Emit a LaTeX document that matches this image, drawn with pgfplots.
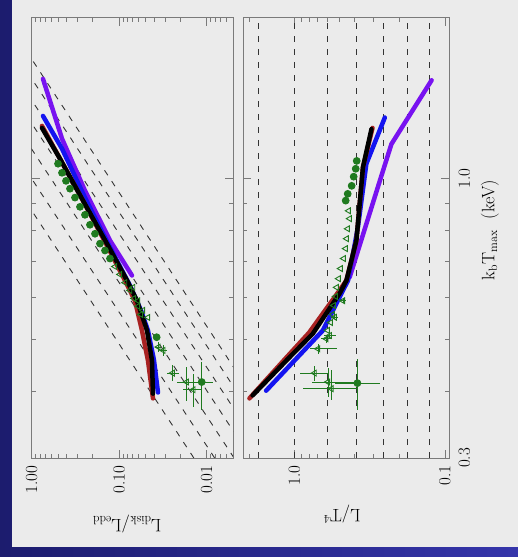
\documentclass[border=0pt]{standalone}
\usepackage{pgfplots}
\pgfplotsset{compat=1.18}
\definecolor{navy}{HTML}{1C1C6E}
\definecolor{navyhi}{HTML}{3535AA}
\definecolor{bgpanel}{HTML}{EBEBEB}
\definecolor{frame}{HTML}{7A7A7A}
\definecolor{dgreen}{HTML}{1F7A1F}
\definecolor{cred}{HTML}{A82222}
\definecolor{cblue}{HTML}{1414F0}
\definecolor{cpurple}{HTML}{7812F0}

\pgfplotsset{
  mypanel/.style={
    scale only axis, height=440pt,
    ymin=0.3, ymax=2.0,
    ytick={0.3,1}, minor ytick={0.4,0.5,0.6,0.7,0.8,0.9},
    yticklabels={},
    axis line style={frame, line width=1pt},
    every tick/.style={frame, line width=0.8pt},
    major tick length=8pt, minor tick length=4pt,
    tick align=inside,
    xticklabel style={rotate=90, anchor=east, font=\fontsize{17}{19}\selectfont},
    xticklabel shift=4pt,
  },
  mycurve/.style={line width=4.5pt, line join=round, line cap=round},
  myguide/.style={black!80, line width=0.9pt, dash pattern=on 6pt off 7pt},
  myobs/.style={only marks, dgreen, mark size=3.4pt, line width=0.9pt},
  mytri/.style={myobs, mark=triangle, mark options={rotate=90, fill=none}},
  mydot/.style={myobs, mark=*},
  myeb/.style={error bars/x dir=both, error bars/x explicit,
    error bars/y dir=both, error bars/y explicit,
    error bars/error mark=none,
    error bars/error bar style={line width=0.7pt, dgreen}},
}

\begin{document}
\begin{tikzpicture}
\shade[left color=navy, right color=navyhi] (0pt,0pt) rectangle (518pt,557pt);
\fill[bgpanel] (12pt,10pt) rectangle (518pt,557pt);

% upper panel of the original figure: L_disk/L_edd
\begin{axis}[xmode=log, ymode=log, x dir=reverse, mypanel,
  at={(31.7pt,99pt)}, anchor=south west, width=201.3pt,
  xmin=0.005, xmax=1.0,
  xtick={0.01,0.1,1}, xticklabels={0.01,0.10,1.00},
  minor xtick={0.006,0.007,0.008,0.009,0.02,0.03,0.04,0.05,0.06,0.07,0.08,0.09,0.2,0.3,0.4,0.5,0.6,0.7,0.8,0.9}]
\addplot[myguide] coordinates {(0.01401,0.3) (27.68,2.0)};
\addplot[myguide] coordinates {(0.0081,0.3) (16,2.0)};
\addplot[myguide] coordinates {(0.00486,0.3) (9.6,2.0)};
\addplot[myguide] coordinates {(0.003119,0.3) (6.16,2.0)};
\addplot[myguide] coordinates {(0.00209,0.3) (4.128,2.0)};
\addplot[myguide] coordinates {(0.001442,0.3) (2.848,2.0)};
\addplot[myguide] coordinates {(0.001029,0.3) (2.032,2.0)};

\addplot[mydot] coordinates {(0.500,1.067) (0.4505,1.026) (0.4055,0.991) (0.365,0.958)
  (0.320,0.922) (0.2805,0.886) (0.246,0.856) (0.2157,0.820) (0.189,0.789)
  (0.1657,0.756) (0.1453,0.734) (0.1274,0.709)};
\addplot[mytri] coordinates {(0.1117,0.685) (0.0979,0.662) (0.0858,0.639) (0.0752,0.618)
  (0.0678,0.597) (0.061,0.577) (0.0564,0.557) (0.0695,0.626) (0.061,0.591)
  (0.0535,0.567) (0.0469,0.550)};
\addplot[mydot, myeb] coordinates {
  (0.0373,0.505) +- (0.002,0.006)
  (0.0114,0.4163) += (0.0099,0.037) -= (0.0029,0.048)};
\addplot[mytri, myeb] coordinates {
  (0.0357,0.484) +- (0.002,0.01)
  (0.0313,0.477) +- (0.003,0.012)
  (0.0245,0.4326) +- (0.004,0.015)
  (0.0169,0.4163) += (0.0051,0.028) -= (0.0044,0.032)
  (0.0142,0.4027) += (0.0043,0.029) -= (0.0028,0.029)};

\addplot[mycurve, cpurple] coordinates {(0.743,1.538) (0.450,1.188) (0.246,0.950) (0.127,0.766) (0.0714,0.659)};
\addplot[mycurve, cblue] coordinates {(0.743,1.311) (0.450,1.138) (0.246,0.922) (0.134,0.756)
  (0.0753,0.631) (0.0564,0.567) (0.0469,0.520) (0.0400,0.457) (0.0360,0.398)};
\addplot[mycurve, cred] coordinates {(0.763,1.256) (0.259,0.910) (0.138,0.750) (0.0859,0.645)
  (0.0660,0.591) (0.0549,0.520) (0.0469,0.457) (0.0411,0.388)};
\addplot[mycurve, black] coordinates {(0.763,1.245) (0.475,1.090) (0.259,0.910) (0.138,0.756)
  (0.0814,0.645) (0.0626,0.591) (0.0481,0.520) (0.0422,0.457) (0.0411,0.396)};
\end{axis}

% lower panel of the original figure: L/T^4
\begin{axis}[xmode=log, ymode=log, x dir=reverse, mypanel,
  at={(243pt,99pt)}, anchor=south west, width=206pt,
  xmin=0.094, xmax=2.2,
  xtick={0.1,1}, xticklabels={0.1,1.0},
  minor xtick={0.2,0.3,0.4,0.5,0.6,0.7,0.8,0.9,2},
  yticklabel pos=right, yticklabels={0.3,1.0},
  yticklabel style={rotate=90, anchor=north, font=\fontsize{17}{19}\selectfont},
  yticklabel shift=6pt]
\addplot[myguide] coordinates {(1.73,0.3) (1.73,2.0)};
\addplot[myguide] coordinates {(1.0,0.3) (1.0,2.0)};
\addplot[myguide] coordinates {(0.60,0.3) (0.60,2.0)};
\addplot[myguide] coordinates {(0.385,0.3) (0.385,2.0)};
\addplot[myguide] coordinates {(0.258,0.3) (0.258,2.0)};
\addplot[myguide] coordinates {(0.178,0.3) (0.178,2.0)};
\addplot[myguide] coordinates {(0.127,0.3) (0.127,2.0)};

\addplot[mydot] coordinates {(0.386,1.080) (0.392,1.044) (0.4044,1.009) (0.417,0.970)
  (0.443,0.937) (0.457,0.910)};
\addplot[mytri] coordinates {(0.4365,0.871) (0.430,0.842) (0.443,0.806) (0.450,0.7724)
  (0.457,0.740) (0.4714,0.709) (0.4937,0.679) (0.509,0.650) (0.5248,0.626)
  (0.533,0.602) (0.5495,0.579) (0.558,0.557) (0.575,0.538) (0.6026,0.520)};
\addplot[mydot, myeb] coordinates {
  (0.382,0.4143) += (0.159,0.046) -= (0.111,0.046)};
\addplot[mytri, myeb] coordinates {
  (0.569,0.4045) += (0.315,0.033) -= (0.183,0.02)
  (0.600,0.4163) += (0.16,0.025) -= (0.2,0.026)
  (0.7356,0.4326) += (0.19,0.014) -= (0.15,0.014)
  (0.699,0.4804) += (0.095,0.01) -= (0.18,0.01)
  (0.615,0.5016) +- (0.05,0.008)
  (0.584,0.5087) +- (0.05,0.008)
  (0.541,0.5504) +- (0.03,0.005)
  (0.4767,0.591) +- (0.02,0.005)};

\addplot[mycurve, cpurple] coordinates {(0.1227,1.529) (0.227,1.161) (0.271,0.991) (0.43,0.654)};
\addplot[mycurve, cblue] coordinates {(0.251,1.302) (0.333,1.067) (0.379,0.811) (0.441,0.645)
  (0.648,0.520) (1.545,0.401)};
\addplot[mycurve, cred] coordinates {(0.303,1.245) (0.351,1.05) (0.388,0.766) (0.452,0.645)
  (0.53,0.605) (0.80,0.515) (1.13,0.463) (1.995,0.388)};
\addplot[mycurve, black] coordinates {(0.308,1.239) (0.351,1.05) (0.388,0.766) (0.452,0.645)
  (0.501,0.610) (0.755,0.513) (1.08,0.463) (1.90,0.393)};
\end{axis}

\node[rotate=180, font=\fontsize{18}{20}\selectfont] at (127pt,33pt)
  {L$_{\mathrm{disk}}$/L$_{\mathrm{edd}}$};
\node[rotate=180, font=\fontsize{18}{20}\selectfont] at (342pt,43pt) {L/T$^4$};
\node[rotate=90, font=\fontsize{18}{20}\selectfont] at (490pt,327pt)
  {k$_{\mathrm b}$T$_{\mathrm{max}}$\ \ (keV)};

\pgfresetboundingbox
\path[use as bounding box] (0pt,0pt) rectangle (518pt,557pt);
\end{tikzpicture}
\end{document}
